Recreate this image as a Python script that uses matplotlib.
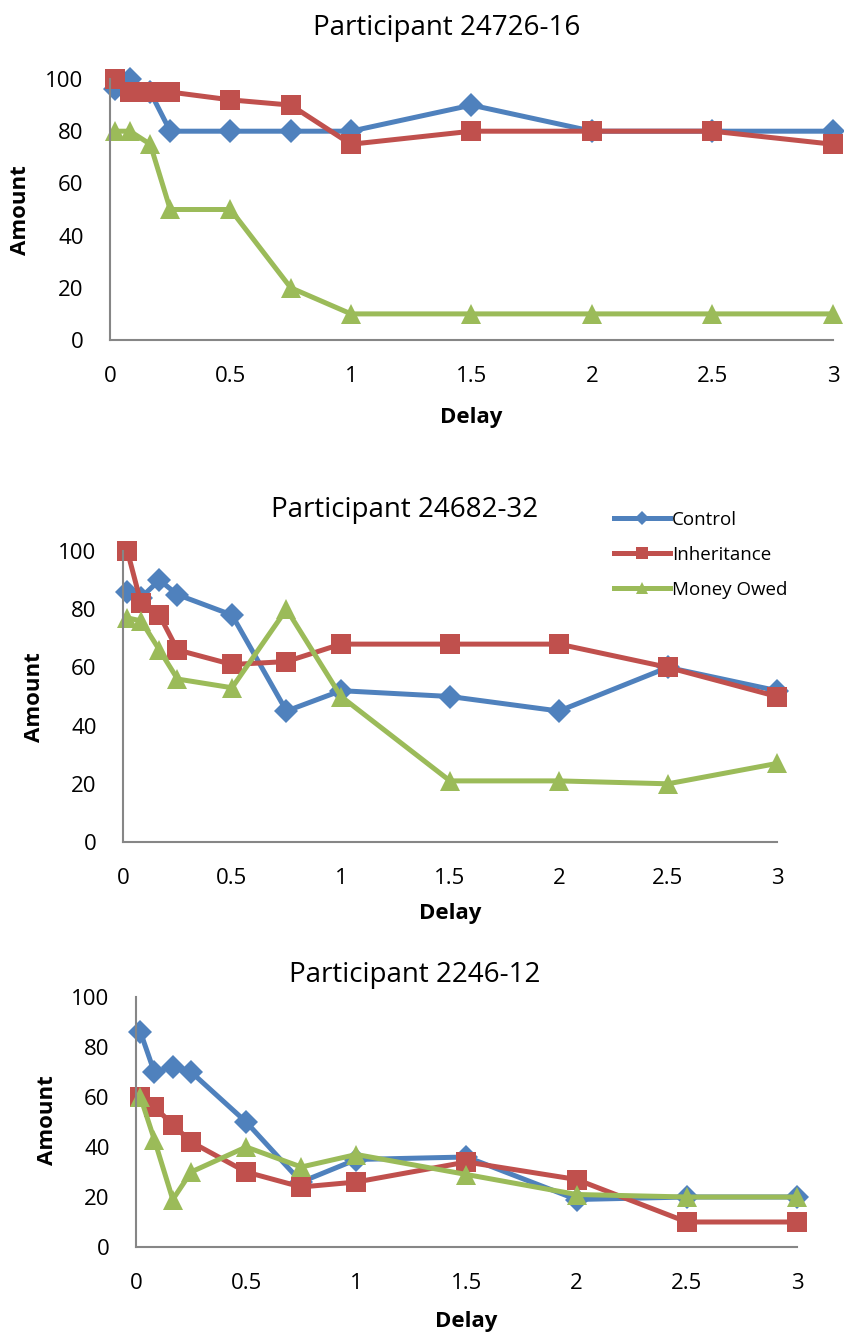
import matplotlib
matplotlib.use("Agg")
import matplotlib.pyplot as plt
from matplotlib.lines import Line2D

plt.rcParams['font.family'] = ['Open Sans', 'DejaVu Sans']

# Delay in years
delay = [0.02, 0.083, 0.167, 0.25, 0.5, 0.75, 1, 1.5, 2, 2.5, 3]
x_ticks = [0, 0.5, 1, 1.5, 2, 2.5, 3]
x_tick_labels = ["0", "0.5", "1", "1.5", "2", "2.5", "3"]
y_ticks = [0, 20, 40, 60, 80, 100]

series_names = ["Control", "Inheritance", "Money Owed"]

titles = ["Participant 24726-16", "Participant 24682-32", "Participant 2246-12"]

p1_control = [96, 100, 95, 80, 80, 80, 80, 90, 80, 80, 80]
p1_inheritance = [100, 95, 95, 95, 92, 90, 75, 80, 80, 80, 75]
p1_money_owed = [80, 80, 75, 50, 50, 20, 10, 10, 10, 10, 10]

p2_control = [86, 84, 90, 85, 78, 45, 52, 50, 45, 60, 52]
p2_inheritance = [100, 82, 78, 66, 61, 62, 68, 68, 68, 60, 50]
p2_money_owed = [77, 76, 66, 56, 53, 80, 50, 21, 21, 20, 27]

p3_control = [86, 70, 72, 70, 50, 26, 35, 36, 19, 20, 20]
p3_inheritance = [60, 56, 49, 42, 30, 24, 26, 34, 27, 10, 10]
p3_money_owed = [60, 43, 19, 30, 40, 32, 37, 29, 21, 20, 20]

colors = ["#4F81BD", "#C0504D", "#9BBB59"]
markers = ["D", "s", "^"]
msizes = [12.5, 14.5, 15]

W, H = 845, 1337
fig = plt.figure(figsize=(W / 100, H / 100), dpi=100)


def px_axes(left, right, top, bottom):
    return fig.add_axes([left / W, 1 - bottom / H, (right - left) / W, (bottom - top) / H])


def px_text(x, y, s, **kw):
    fig.text(x / W, 1 - y / H, s, ha="center", va="center", **kw)


# (axes, data, title centre, Amount label centre, Delay label centre)
panels = [
    (px_axes(110, 833, 79, 340), [p1_control, p1_inheritance, p1_money_owed],
     (447, 28), (21, 210), (471, 417)),
    (px_axes(123, 777, 551, 842), [p2_control, p2_inheritance, p2_money_owed],
     (405, 510), (35, 697), (450, 913)),
    (px_axes(136, 797, 997, 1247), [p3_control, p3_inheritance, p3_money_owed],
     (415, 975), (48, 1120), (466, 1322)),
]

for (ax, data, tpos, ypos, xpos), title in zip(panels, titles):
    for vals, c, m, ms, name in zip(data, colors, markers, msizes, series_names):
        ax.plot(delay, vals, color=c, lw=3.6, marker=m, markersize=ms,
                markeredgewidth=0, clip_on=False, label=name, solid_joinstyle='round')
    ax.set_xlim(0, 3)
    ax.set_ylim(0, 100)
    ax.set_xticks(x_ticks)
    ax.set_xticklabels(x_tick_labels)
    ax.set_yticks(y_ticks)
    ax.tick_params(length=0, labelsize=16)
    ax.tick_params(axis="x", pad=19)
    ax.tick_params(axis="y", pad=19)
    for s in ["top", "right"]:
        ax.spines[s].set_visible(False)
    for s in ["left", "bottom"]:
        ax.spines[s].set_color("#868686")
        ax.spines[s].set_linewidth(1.5)
    px_text(*tpos, title, fontsize=20)
    px_text(*ypos, "Amount", fontsize=16, fontweight="bold", rotation=90)
    px_text(*xpos, "Delay", fontsize=16, fontweight="bold")

# legend beside the middle panel title
handles = [Line2D([0], [0], color=c, lw=3.6, marker=m, markersize=ms * 0.55, markeredgewidth=0)
           for c, m, ms in zip(colors, markers, msizes)]
fig.legend(handles, series_names, loc="upper left", bbox_to_anchor=(597 / W, 1 - 494 / H),
           frameon=False, fontsize=13.5, handlelength=3, labelspacing=0.9, handletextpad=0.1)

fig.savefig("out.png", dpi=100)
